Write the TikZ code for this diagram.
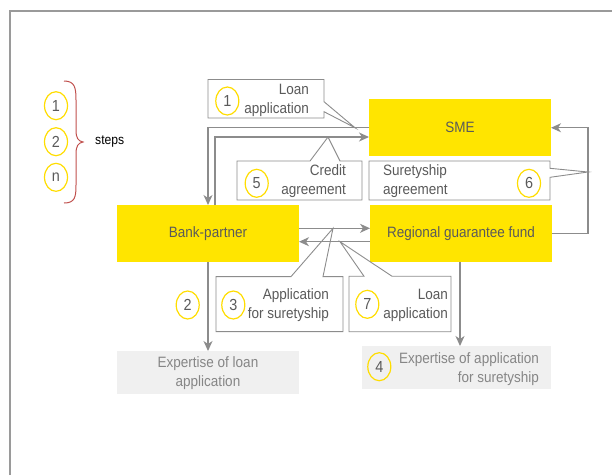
\documentclass[tikz,border=0pt]{standalone}
\usepackage{fontspec}
\setmainfont{Liberation Sans}[FakeStretch=0.9]
\usetikzlibrary{arrows.meta,calc,shapes.geometric}
\definecolor{ylw}{HTML}{FFE500}
\definecolor{ring}{HTML}{FFDD00}
\definecolor{ln}{HTML}{8C8C8C}
\definecolor{txt}{HTML}{5A5A5A}
\definecolor{ltxt}{HTML}{868686}
\definecolor{expf}{HTML}{F0F0F0}
\definecolor{brc}{HTML}{C0504D}
\definecolor{frm}{HTML}{9A9A9A}
\begin{document}
\begin{tikzpicture}[x=1pt,y=-1pt,
  yb/.style={rectangle, fill=ylw, draw=none, inner sep=0pt, outer sep=0pt,
    minimum width=182pt, minimum height=57pt, text=txt, font=\fontsize{15}{19}\selectfont},
  eb/.style={rectangle, fill=expf, draw=none, inner sep=0pt, outer sep=0pt, minimum height=43pt},
  cb/.style={rectangle, fill=white, draw=none, inner sep=0pt, outer sep=0pt},
  num/.style={ellipse, draw=ring, line width=1.2pt, minimum width=23pt, minimum height=28pt,
    inner sep=0pt, text=txt, font=\fontsize{16}{16}\selectfont},
  lbl/.style={inner sep=0pt, text=txt, font=\fontsize{15}{19}\selectfont},
  llbl/.style={inner sep=0pt, text=ltxt, font=\fontsize{15}{19}\selectfont},
  arr/.style={draw=ln, line width=1.2pt, -{Stealth[length=10pt,width=9pt,inset=3pt]}},
  co/.style={draw=ln, line width=0.9pt, line join=miter}]
\useasboundingbox (0,0) rectangle (612,475);
% frame
\draw[frm, line width=2pt] (10,475) -- (10,11) -- (612,11);

% legend
\node[num] (k1) at (56,105.7) {1};
\node[num] (k2) at (56,141.7) {2};
\node[num] (kn) at (56,177.3) {n};
\draw[brc, line width=1pt] (64,81) .. controls (75,81) and (76,88) .. (76,100) -- (76,130)
  .. controls (76,138) and (78,141) .. (83,142) .. controls (78,143) and (76,146) .. (76,154)
  -- (76,185) .. controls (76,197) and (75,203) .. (64,203);
\node[inner sep=0pt, anchor=west, font=\fontsize{13.5}{15}\selectfont] (steps) at (95,141.7) {steps};

% main boxes
\node[yb] (sme) at (460,127.75) {SME};
\node[yb] (rgf) at (461,233.5) {Regional guarantee fund};
\node[yb] (bank) at (208,233.5) {Bank-partner};
\node[eb, minimum width=182pt] (exp1) at (208,372.5) {};
\node[llbl, align=center] (exp1t) at (208,373) {Expertise of loan\\application};
\node[eb, minimum width=189pt] (exp2) at (456.5,367.5) {};
\node[llbl, align=right, anchor=east] (exp2t) at (539,369.5) {Expertise of application\\for suretyship};
\node[num] (n4) at (379.3,366.7) {4};

% rails
\coordinate (l2) at (215,137);
\coordinate (rx) at (588,0);
\coordinate (ua) at (0,228.3);
\coordinate (la) at (0,241.7);

% connectors
\draw[arr] (sme.west) -| (bank.north);
\draw[arr] (bank.north -| l2) |- (sme.west |- l2);
\draw[arr] (bank.south) -- (exp1.north);
\draw[arr] (bank.east |- ua) -- (rgf.west |- ua);
\draw[arr] (rgf.west |- la) -- (bank.east |- la);
\draw[arr] (rgf.south -| 460,0) -- (exp2.north -| 460,0);
\draw[arr] (rgf.east) -- (rgf.east -| rx) |- (sme.east);

% callout tips
\coordinate (t1) at (355,127.75);
\coordinate (t5) at (328,137);
\coordinate (t6) at (588,172);
\coordinate (t3) at (333,228.3);
\coordinate (t7) at (340,241.7);

% callout 1
\node[cb, minimum width=116pt, minimum height=38.5pt] (c1) at (266,98.75) {};
\draw[co] (c1.north west) -- (c1.north east) -- ($(c1.north east)+(0,22.2)$) -- (t1)
  -- ($(c1.north east)+(0,32.2)$) -- (c1.south east) -- (c1.south west) -- cycle;
\node[lbl, align=right, anchor=east] (c1t) at (309,100) {Loan\\application};
\node[num] (n1) at (227.3,101) {1};

% callout 5
\node[cb, minimum width=125pt, minimum height=39pt] (c5) at (299.5,180.5) {};
\draw[co] (c5.north west) -- ($(c5.north west)+(73,0)$) -- (t5) -- ($(c5.north west)+(103,0)$)
  -- (c5.north east) -- (c5.south east) -- (c5.south west) -- cycle;
\node[lbl, align=right, anchor=east] (c5t) at (346,180.7) {Credit\\agreement};
\node[num] (n5) at (256.7,183.3) {5};

% callout 6
\node[cb, minimum width=181pt, minimum height=39pt] (c6) at (459.5,180.5) {};
\draw[co] (c6.north west) -- (c6.north east) -- ($(c6.north east)+(0,7.3)$) -- (t6)
  -- ($(c6.north east)+(0,16.3)$) -- (c6.south east) -- (c6.south west) -- cycle;
\node[lbl, align=left, anchor=west] (c6t) at (383,181.2) {Suretyship\\agreement};
\node[num] (n6) at (529,183.3) {6};

% callout 3
\node[cb, minimum width=127pt, minimum height=55pt] (c3) at (279.5,304.1) {};
\draw[co] (c3.north west) -- ($(c3.north west)+(75,0)$) -- (t3) -- ($(c3.north west)+(107,0)$)
  -- (c3.north east) -- (c3.south east) -- (c3.south west) -- cycle;
\node[lbl, align=right, anchor=east] (c3t) at (329,305.5) {Application\\for suretyship};
\node[num] (n3) at (233.3,305) {3};
\node[num] (n2) at (187.7,305) {2};

% callout 7
\node[cb, minimum width=102pt, minimum height=55.5pt] (c7) at (400,304) {};
\draw[co] (c7.north west) -- ($(c7.north west)+(15,0)$) -- (t7) -- ($(c7.north west)+(43,0)$)
  -- (c7.north east) -- (c7.south east) -- (c7.south west) -- cycle;
\node[lbl, align=right, anchor=east] (c7t) at (448,305) {Loan\\application};
\node[num] (n7) at (367.3,304.3) {7};
\end{tikzpicture}
\end{document}
